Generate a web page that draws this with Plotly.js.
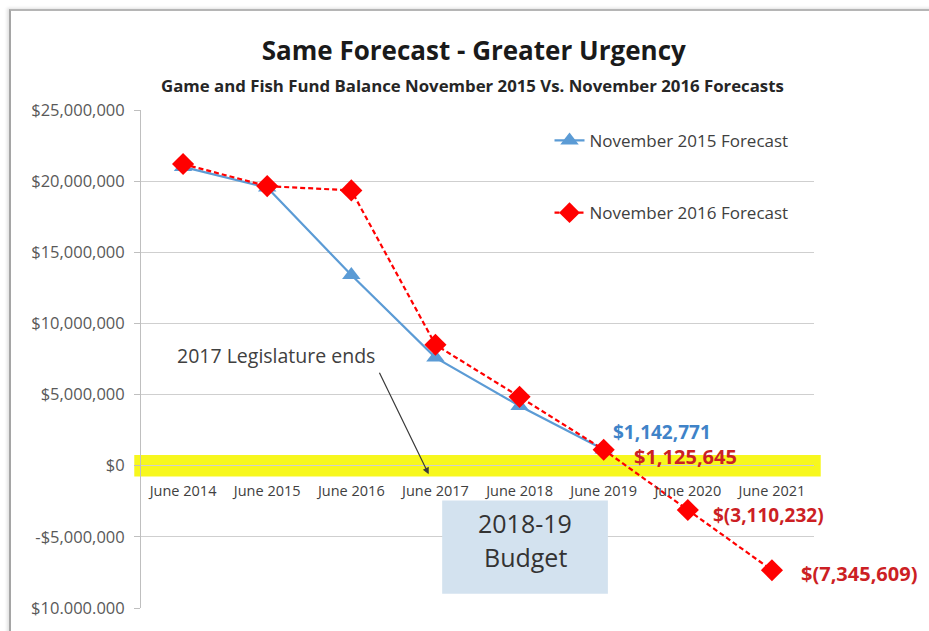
<!DOCTYPE html>
<html>
<head>
<meta charset="utf-8">
<script src="https://cdn.plot.ly/plotly-3.0.1.min.js"></script>
<style>
  body { margin: 0; background: #fff; }
  #chart { width: 929px; height: 631px; }
  #frame {
    position: absolute; left: 9px; top: 9px; width: 940px; height: 640px;
    border-top: 2px solid #b5b5b5; border-left: 2px solid #a5a5a5;
    box-shadow: -2px -1px 3px rgba(0,0,0,0.12);
    pointer-events: none;
  }
</style>
</head>
<body>
<div id="chart"></div>
<div id="frame"></div>
<script>
var years = ['June 2014', 'June 2015', 'June 2016', 'June 2017', 'June 2018', 'June 2019', 'June 2020', 'June 2021'];
var forecast2015 = [21000000, 19550000, 13400000, 7600000, 4200000, 1142771];
var forecast2016 = [21200000, 19650000, 19350000, 8500000, 4840000, 1125645, -3110232, -7345609];
var yTickVals = [25000000, 20000000, 15000000, 10000000, 5000000, 0, -5000000, -10000000];
var yTickText = ['$25,000,000', '$20,000,000', '$15,000,000', '$10,000,000', '$5,000,000', '$0', '-$5,000,000', '$10.000.000'];
var labels2015 = ['$1,142,771'];
var labels2016 = ['$1,125,645', '$(3,110,232)', '$(7,345,609)'];

var font = '"Open Sans", Lato, sans-serif';
var blue = '#5b9bd5';
var red = '#ff0000';
var darkRed = '#cc1f24';

var trace1 = {
  x: years.slice(0, forecast2015.length),
  y: forecast2015,
  name: 'November 2015 Forecast',
  type: 'scatter',
  mode: 'lines+markers',
  line: {color: blue, width: 2.2},
  marker: {symbol: 'triangle-up', size: 16, color: blue},
  legend: 'legend'
};

var trace2 = {
  x: years,
  y: forecast2016,
  name: 'November 2016 Forecast',
  type: 'scatter',
  mode: 'lines+markers',
  line: {color: red, width: 2.2, dash: '5px,3px'},
  marker: {symbol: 'diamond', size: 17, color: red},
  legend: 'legend2'
};

var annotations = [
  {
    xref: 'paper', yref: 'paper', x: 0.492, y: 1.076,
    text: '<b>Game and Fish Fund Balance November 2015 Vs. November 2016 Forecasts</b>',
    showarrow: false, font: {family: font, size: 16.8, color: '#262626'}
  },
  {
    x: years[5], y: forecast2015[5], text: '<b>' + labels2015[0] + '</b>',
    showarrow: false, xanchor: 'left', yanchor: 'middle', xshift: 7, yshift: 17,
    font: {family: font, size: 19, color: '#3f83c8'}
  },
  {
    x: years[5], y: forecast2016[5], text: '<b>' + labels2016[0] + '</b>',
    showarrow: false, xanchor: 'left', yanchor: 'middle', xshift: 28, yshift: -7,
    font: {family: font, size: 20, color: darkRed}
  },
  {
    x: years[6], y: forecast2016[6], text: '<b>' + labels2016[1] + '</b>',
    showarrow: false, xanchor: 'left', yanchor: 'middle', xshift: 23, yshift: -5,
    font: {family: font, size: 19, color: darkRed}
  },
  {
    x: years[7], y: forecast2016[7], text: '<b>' + labels2016[2] + '</b>',
    showarrow: false, xanchor: 'left', yanchor: 'middle', xshift: 27, yshift: -3,
    font: {family: font, size: 20, color: darkRed}
  },
  {
    x: 1.105, y: 7750000, text: '2017 Legislature ends',
    showarrow: false, xanchor: 'center', yanchor: 'middle',
    font: {family: font, size: 19.5, color: '#404040'}
  },
  {
    x: 2.92, y: -600000, ax: -50, ay: -103, text: '',
    showarrow: true, arrowhead: 2, arrowsize: 1.1, arrowwidth: 1.2, arrowcolor: '#3a3a3a'
  },
  {
    x: 4.07, y: -4000000, text: '2018-19',
    showarrow: false, font: {family: font, size: 25, color: '#333333'}
  },
  {
    x: 4.07, y: -6400000, text: 'Budget',
    showarrow: false, font: {family: font, size: 25, color: '#333333'}
  }
];

var shapes = [
  {
    type: 'rect', xref: 'paper', yref: 'y', x0: -0.01, x1: 1.01, y0: -750000, y1: 750000,
    fillcolor: '#f7f71e', line: {width: 0}, layer: 'between'
  },
  {
    type: 'rect', xref: 'x', yref: 'y', x0: 3.08, x1: 5.05, y0: -2450000, y1: -9000000,
    fillcolor: '#d3e2ef', line: {width: 0}, layer: 'between'
  }
];

var layout = {
  width: 929,
  height: 631,
  paper_bgcolor: '#ffffff',
  plot_bgcolor: 'rgba(0,0,0,0)',
  margin: {l: 141, r: 115, t: 110, b: 23},
  title: {
    text: '<b>Same Forecast - Greater Urgency</b>',
    x: 0.51, xanchor: 'center', y: 0.92, yanchor: 'middle',
    font: {family: font, size: 26, color: '#1a1a1a'}
  },
  xaxis: {
    type: 'category',
    range: [-0.5, 7.5],
    anchor: 'free',
    position: 10 / 35,
    showline: false,
    showgrid: false,
    zeroline: false,
    ticks: '',
    ticklabelstandoff: 15,
    tickfont: {family: font, size: 14.5, color: '#404040'}
  },
  yaxis: {
    range: [-10000000, 25000000],
    tickvals: yTickVals,
    ticktext: yTickText,
    showline: true,
    linecolor: '#bfbfbf',
    ticks: 'outside',
    ticklen: 6,
    tickcolor: '#bfbfbf',
    ticklabelstandoff: 6,
    showgrid: true,
    gridcolor: '#cfcfcf',
    zeroline: false,
    tickfont: {family: font, size: 16.5, color: '#595959'}
  },
  showlegend: true,
  legend: {
    x: 0.607, y: 0.938, xanchor: 'left', yanchor: 'middle',
    bgcolor: 'rgba(0,0,0,0)',
    font: {family: font, size: 17, color: '#404040'}
  },
  legend2: {
    x: 0.607, y: 0.793, xanchor: 'left', yanchor: 'middle',
    bgcolor: 'rgba(0,0,0,0)',
    font: {family: font, size: 17, color: '#404040'}
  },
  annotations: annotations,
  shapes: shapes
};

var config = {
  responsive: false,
  displayModeBar: false,
  staticPlot: true
};

Plotly.newPlot('chart', [trace1, trace2], layout, config);
</script>
</body>
</html>
